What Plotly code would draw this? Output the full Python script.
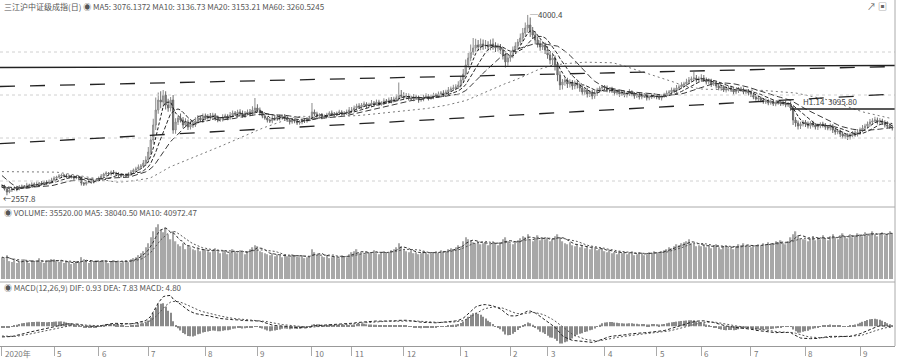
import plotly.graph_objects as go
import pandas as pd

# ---------------- data ----------------
pre_closes = [2660, 2650, 2640, 2630, 2620, 2610, 2600, 2610, 2620, 2630, 2640, 2650, 2640, 2630, 2620, 2630, 2640, 2650, 2660, 2670,
              2820, 2840, 2860, 2870, 2880, 2890, 2900, 2910, 2900, 2890, 2880, 2870, 2880, 2890, 2900, 2910, 2920, 2930, 2940, 2950,
              2950, 2960, 2940, 2900, 2850, 2800, 2760, 2700, 2650, 2600, 2560, 2590, 2620, 2640, 2610, 2630, 2650, 2640, 2630]

closes = [
    # 2020-04
    2632, 2608, 2584, 2600, 2608, 2616, 2608, 2624, 2632, 2624, 2640, 2632, 2648, 2640, 2648, 2656, 2648, 2664, 2656, 2672, 2680,
    # 05
    2696, 2704, 2712, 2720, 2712, 2704, 2712, 2704, 2696, 2704, 2696, 2656, 2648, 2664, 2672, 2664, 2672, 2680,
    # 06
    2696, 2712, 2728, 2736, 2728, 2744, 2736, 2728, 2720, 2712, 2720, 2712, 2728, 2744, 2760, 2768, 2784, 2792, 2816, 2840,
    # 07
    2904, 3000, 3120, 3240, 3320, 3304, 3360, 3280, 3256, 3320, 3080, 3144, 3176, 3160, 3120, 3144, 3104, 3128, 3120, 3152, 3176, 3160, 3192,
    # 08
    3176, 3192, 3184, 3200, 3176, 3160, 3168, 3184, 3192, 3176, 3200, 3216, 3208, 3224, 3208, 3192, 3216, 3224, 3208, 3240, 3256,
    # 09
    3240, 3216, 3192, 3176, 3160, 3152, 3176, 3168, 3184, 3176, 3192, 3176, 3160, 3144, 3160, 3152, 3136, 3144, 3160, 3152, 3168, 3176,
    # 10
    3224, 3208, 3192, 3200, 3184, 3192, 3200, 3216, 3208, 3200, 3216, 3224, 3208, 3216, 3224, 3240,
    # 11
    3240, 3256, 3272, 3264, 3280, 3288, 3272, 3280, 3296, 3288, 3304, 3288, 3296, 3312, 3304, 3320, 3312, 3328, 3336, 3360, 3352,
    # 12
    3344, 3352, 3336, 3328, 3344, 3336, 3320, 3328, 3344, 3352, 3336, 3344, 3360, 3352, 3368, 3376, 3360, 3384, 3400, 3408, 3416, 3424, 3440,
    # 2021-01
    3480, 3528, 3600, 3656, 3704, 3736, 3760, 3744, 3768, 3752, 3760, 3744, 3768, 3752, 3736, 3744, 3720, 3680, 3624, 3656,
    # 02
    3680, 3720, 3752, 3784, 3816, 3856, 3896, 3920, 3864, 3840, 3800, 3768, 3744, 3760, 3720,
    # 03
    3680, 3640, 3656, 3600, 3520, 3440, 3464, 3480, 3448, 3464, 3432, 3456, 3440, 3416, 3384, 3400, 3368, 3384, 3352, 3376, 3400, 3416, 3424,
    # 04
    3416, 3400, 3408, 3392, 3376, 3384, 3368, 3376, 3360, 3368, 3384, 3368, 3352, 3360, 3344, 3360, 3352, 3336, 3344, 3360, 3352,
    # 05
    3344, 3336, 3352, 3360, 3376, 3384, 3400, 3392, 3416, 3424, 3440, 3448, 3464, 3480, 3488, 3496, 3480, 3488,
    # 06
    3496, 3480, 3464, 3472, 3448, 3456, 3432, 3416, 3424, 3400, 3408, 3416, 3400, 3384, 3392, 3408, 3400, 3384, 3392, 3376,
    # 07
    3360, 3344, 3328, 3336, 3320, 3304, 3312, 3296, 3304, 3288, 3296, 3304, 3288, 3296, 3280, 3288, 3256, 3160, 3136, 3112, 3128, 3144,
    # 08
    3128, 3112, 3136, 3120, 3104, 3112, 3128, 3120, 3104, 3096, 3112, 3080, 3064, 3072, 3048, 3032, 3040, 3024, 3040, 3056, 3048, 3064,
    # 09
    3080, 3096, 3112, 3128, 3144, 3152, 3160, 3144, 3152, 3136, 3120, 3112, 3104, 3096,
]

wick_up = [
    16, 10, 12, 20, 8, 14, 10, 16, 12, 8, 18, 10, 14, 12, 20, 8, 16, 10, 14, 12, 18,
    14, 10, 16, 12, 8, 18, 12, 10, 14, 16, 10, 12, 8, 14, 10, 16, 12, 10,
    12, 16, 10, 14, 8, 12, 16, 10, 14, 12, 8, 10, 14, 16, 12, 18, 20, 16, 24, 30,
    40, 30, 50, 100, 60, 70, 40, 30, 50, 24, 40, 30, 20, 36, 24, 30, 20, 26, 18, 30, 24, 16, 20,
    20, 16, 24, 18, 14, 20, 16, 22, 18, 14, 24, 20, 16, 18, 22, 28, 16, 20, 24, 30, 80,
    30, 20, 16, 18, 14, 12, 20, 16, 14, 18, 12, 16, 20, 14, 18, 12, 16, 14, 20, 12, 16, 18,
    72, 20, 18, 14, 16, 12, 18, 14, 20, 16, 12, 18, 14, 16, 20, 24,
    24, 20, 18, 22, 16, 20, 14, 18, 24, 16, 20, 18, 14, 22, 16, 20, 24, 18, 30, 100, 40,
    30, 24, 20, 18, 24, 16, 20, 14, 18, 22, 16, 20, 18, 14, 20, 16, 22, 18, 24, 20, 26, 22, 30,
    30, 40, 44, 40, 60, 80, 50, 40, 44, 36, 40, 30, 36, 44, 30, 28, 24, 20, 20, 30,
    24, 28, 30, 24, 36, 40, 44, 80.4, 60, 40, 30, 24, 30, 26, 20,
    30, 24, 28, 20, 26, 30, 24, 20, 18, 22, 16, 20, 18, 14, 20, 16, 18, 14, 16, 20, 18, 14, 16,
    16, 20, 14, 18, 12, 16, 14, 18, 12, 20, 24, 14, 16, 12, 18, 14, 16, 12, 18, 14, 16,
    14, 16, 12, 18, 20, 16, 20, 18, 24, 20, 22, 18, 26, 24, 20, 48, 24, 20,
    30, 24, 20, 22, 18, 24, 16, 20, 18, 14, 20, 16, 18, 14, 20, 16, 18, 20, 14, 16,
    16, 20, 14, 18, 12, 16, 20, 14, 18, 16, 12, 18, 14, 16, 20, 14, 20, 16, 24, 20, 18, 16,
    16, 20, 14, 18, 16, 20, 14, 18, 16, 12, 20, 14, 18, 16, 12, 20, 16, 14, 18, 16, 20, 24,
    20, 24, 18, 20, 24, 22, 26, 20, 24, 18, 22, 30, 20, 18,
]

wick_dn = [
    14, 12, 26.2, 10, 16, 12, 18, 10, 14, 12, 8, 16, 10, 14, 12, 18, 10, 12, 14, 10, 12,
    12, 14, 10, 16, 12, 10, 14, 12, 18, 10, 12, 20, 16, 12, 10, 14, 12, 10,
    14, 10, 12, 16, 10, 14, 12, 10, 16, 12, 14, 10, 12, 16, 12, 10, 14, 12, 16, 20,
    20, 24, 30, 40, 30, 50, 40, 36, 30, 28, 30, 30, 24, 20, 26, 18, 24, 20, 22, 16, 20, 18, 24,
    18, 14, 20, 16, 22, 18, 14, 20, 16, 18, 14, 20, 16, 22, 18, 14, 16, 20, 18, 14, 16,
    16, 20, 18, 14, 20, 16, 18, 14, 16, 20, 14, 18, 16, 20, 14, 18, 16, 14, 18, 16, 14, 12,
    14, 18, 16, 12, 18, 14, 16, 12, 14, 18, 12, 16, 14, 12, 16, 14,
    16, 14, 18, 12, 16, 14, 18, 12, 16, 14, 12, 18, 14, 16, 12, 14, 18, 12, 16, 20, 18,
    18, 16, 20, 14, 18, 16, 22, 14, 18, 16, 20, 14, 18, 16, 14, 18, 16, 14, 18, 16, 14, 18, 16,
    20, 24, 20, 22, 26, 24, 30, 28, 26, 30, 24, 28, 26, 30, 32, 28, 30, 36, 44, 30,
    30, 26, 24, 28, 24, 30, 32, 36, 40, 30, 34, 28, 30, 24, 32,
    30, 34, 40, 44, 50, 40, 36, 30, 32, 28, 30, 26, 28, 30, 26, 24, 28, 24, 26, 22, 24, 20, 22,
    20, 18, 22, 16, 20, 18, 22, 16, 18, 20, 16, 18, 22, 16, 20, 18, 16, 20, 18, 16, 18,
    18, 16, 20, 14, 18, 16, 20, 14, 18, 16, 14, 18, 16, 14, 18, 16, 20, 18,
    18, 16, 20, 18, 24, 16, 20, 18, 22, 16, 20, 18, 16, 20, 18, 16, 14, 18, 16, 20,
    16, 18, 14, 16, 18, 14, 16, 18, 14, 16, 18, 14, 16, 14, 18, 16, 22, 40, 30, 28, 24, 20,
    24, 20, 22, 18, 20, 24, 18, 20, 22, 18, 20, 24, 22, 18, 24, 20, 22, 24, 20, 18, 22, 20,
    22, 18, 20, 16, 20, 18, 16, 20, 18, 16, 20, 18, 16, 20,
]

volumes = [
    22, 20, 24, 18, 17, 19, 16, 18, 17, 20, 18, 16, 19, 17, 18, 21, 17, 16, 18, 19, 20,
    20, 18, 17, 19, 16, 18, 17, 15, 16, 18, 17, 22, 20, 17, 16, 18, 17, 19,
    18, 17, 19, 18, 16, 17, 19, 18, 17, 16, 18, 19, 17, 20, 21, 22, 24, 26, 28, 32,
    36, 42, 48, 52, 55, 50, 47, 52, 45, 40, 48, 38, 35, 33, 36, 30, 34, 32, 30, 29, 31, 28, 30,
    30, 28, 27, 29, 31, 28, 26, 27, 29, 25, 27, 30, 28, 26, 29, 27, 25, 28, 30, 32, 34,
    33, 28, 27, 26, 25, 24, 26, 23, 25, 24, 22, 24, 23, 22, 25, 24, 23, 22, 24, 21, 22, 23,
    30, 27, 24, 25, 23, 22, 24, 21, 22, 23, 22, 21, 24, 23, 22, 25,
    27, 28, 30, 26, 27, 25, 28, 26, 27, 29, 26, 25, 27, 28, 26, 27, 29, 30, 32, 36, 33,
    30, 28, 27, 29, 26, 27, 25, 26, 28, 27, 25, 26, 27, 28, 26, 29, 27, 28, 30, 31, 30, 32, 34,
    33, 38, 42, 40, 39, 37, 36, 38, 35, 36, 37, 34, 35, 38, 36, 34, 37, 40, 42, 38,
    36, 35, 37, 39, 41, 43, 42, 45, 40, 38, 41, 44, 39, 42, 40,
    41, 38, 40, 43, 45, 42, 38, 36, 35, 37, 34, 33, 35, 32, 34, 31, 33, 30, 32, 31, 29, 30, 31,
    28, 27, 29, 26, 27, 25, 28, 26, 27, 25, 26, 28, 24, 25, 27, 26, 24, 25, 27, 26, 28,
    27, 26, 28, 29, 30, 32, 31, 33, 35, 34, 36, 37, 38, 40, 36, 35, 33, 34,
    33, 35, 32, 34, 31, 33, 35, 32, 30, 33, 34, 31, 32, 30, 33, 35, 34, 36, 33, 34,
    32, 33, 34, 35, 33, 36, 34, 37, 35, 36, 38, 37, 39, 36, 35, 38, 42, 45, 48, 44, 41, 40,
    40, 38, 41, 43, 39, 42, 40, 44, 41, 39, 43, 45, 42, 40, 44, 46, 43, 41, 45, 42, 44, 46,
    45, 43, 47, 44, 46, 48, 45, 43, 46, 47, 44, 45, 48, 46,
]

month_starts = [0, 21, 39, 59, 82, 103, 125, 141, 162, 185, 205, 220, 243, 264, 282, 302, 324, 346]
month_labels = ["2020年", "5", "6", "7", "8", "9", "10", "11", "12", "1", "2", "3", "4", "5", "6", "7", "8", "9"]

# drawn trend lines: (x0, price0, x1, price1, dash)
trend_lines = [
    (-0.8, 3580, 360.1, 3596, "solid"),
    (-0.8, 3428, 360.1, 3588, "longdash"),
    (-0.8, 2971, 360.1, 3368, "longdash"),
    (318, 3248, 360.1, 3248, "solid"),
]
grid_prices = [3704, 3360, 3016, 2672]

assert len(closes) == len(wick_up) == len(wick_dn) == len(volumes) == 360, (len(closes), len(wick_up), len(wick_dn), len(volumes))

# ---------------- derived ----------------
n = len(closes)
xs = list(range(n))
opens = [pre_closes[-1]] + closes[:-1]
highs = [max(o, c) + w for o, c, w in zip(opens, closes, wick_up)]
lows = [min(o, c) - w for o, c, w in zip(opens, closes, wick_dn)]

full = pd.Series(pre_closes + closes, dtype=float)
k0 = len(pre_closes)


def ma(k):
    return full.rolling(k).mean().iloc[k0:].tolist()


ma5, ma10, ma20, ma60 = ma(5), ma(10), ma(20), ma(60)
ema12 = full.ewm(span=12, adjust=False).mean()
ema26 = full.ewm(span=26, adjust=False).mean()
dif_s = ema12 - ema26
dea_s = dif_s.ewm(span=9, adjust=False).mean()
hist_s = 2 * (dif_s - dea_s)
dif = dif_s.iloc[k0:].tolist()
dea = dea_s.iloc[k0:].tolist()
hist = hist_s.iloc[k0:].tolist()

vs = pd.Series(volumes, dtype=float)
vma5 = vs.rolling(5, min_periods=1).mean().tolist()
vma10 = vs.rolling(10, min_periods=1).mean().tolist()

# ---------------- layout geometry ----------------
H = 359
MB = 13
PH = H - MB  # plot height in px


def py(p):
    return (PH - p) / PH


XR = [-0.8, 360.1]

fig = go.Figure()

fig.add_trace(go.Candlestick(
    x=xs, open=opens, high=highs, low=lows, close=closes,
    increasing=dict(line=dict(color="#8a8a8a", width=1), fillcolor="#c4c4c4"),
    decreasing=dict(line=dict(color="#6a6a6a", width=1), fillcolor="#8a8a8a"),
    whiskerwidth=0, xaxis="x", yaxis="y", showlegend=False, hoverinfo="skip"))

for vals, col, dash, w in [(ma5, "#1a1a1a", "3px,2px", 1), (ma10, "#2a2a2a", "4px,2px", 1),
                           (ma20, "#3a3a3a", "6px,3px", 1), (ma60, "#7a7a7a", "2px,3px", 1)]:
    fig.add_trace(go.Scatter(x=xs, y=vals, mode="lines", line=dict(color=col, dash=dash, width=w),
                             xaxis="x", yaxis="y", showlegend=False, hoverinfo="skip"))

fig.add_trace(go.Bar(x=xs, y=volumes, marker=dict(color="#a8a8a8", line=dict(width=0)),
                     xaxis="x2", yaxis="y2", showlegend=False, hoverinfo="skip"))
fig.add_trace(go.Scatter(x=xs, y=vma5, mode="lines", line=dict(color="#333", width=1, dash="3px,2px"),
                         xaxis="x2", yaxis="y2", showlegend=False, hoverinfo="skip"))
fig.add_trace(go.Scatter(x=xs, y=vma10, mode="lines", line=dict(color="#555", width=1, dash="2px,2px"),
                         xaxis="x2", yaxis="y2", showlegend=False, hoverinfo="skip"))

fig.add_trace(go.Bar(x=xs, y=hist, marker=dict(color="#8a8a8a", line=dict(width=0)), width=0.45,
                     xaxis="x3", yaxis="y3", showlegend=False, hoverinfo="skip"))
fig.add_trace(go.Scatter(x=xs, y=dif, mode="lines", line=dict(color="#222", width=1, dash="3px,2px"),
                         xaxis="x3", yaxis="y3", showlegend=False, hoverinfo="skip"))
fig.add_trace(go.Scatter(x=xs, y=dea, mode="lines", line=dict(color="#555", width=1, dash="2px,2px"),
                         xaxis="x3", yaxis="y3", showlegend=False, hoverinfo="skip"))

mlo = min(min(dif), min(dea), min(hist))
mhi = max(max(dif), max(dea), max(hist))
pad = (mhi - mlo) * 0.05
vmax = max(volumes)

axis_common = dict(range=XR, showgrid=False, zeroline=False, showticklabels=False, fixedrange=True)
fig.update_layout(
    width=900, height=H,
    margin=dict(l=0, r=5, t=0, b=MB),
    paper_bgcolor="white", plot_bgcolor="white",
    bargap=0.45,
    xaxis=dict(domain=[0, 1], anchor="y", rangeslider=dict(visible=False), **axis_common),
    xaxis2=dict(domain=[0, 1], anchor="y2", **axis_common),
    xaxis3=dict(domain=[0, 1], anchor="y3", range=XR, showgrid=False, zeroline=False,
                showticklabels=False, ticks="outside", ticklen=9, tickcolor="#aaa",
                tickvals=month_starts, showline=True, linecolor="#999", linewidth=1),
    yaxis=dict(domain=[py(204), py(10)], range=[2488, 4040], showgrid=False, zeroline=False,
               showticklabels=False),
    yaxis2=dict(domain=[py(279), py(220)], range=[0, vmax * 1.08], showgrid=False, zeroline=False,
                showticklabels=False),
    yaxis3=dict(domain=[0, py(293)], range=[mlo - pad, mhi + pad], showgrid=False, zeroline=False,
                showticklabels=False),
    font=dict(family="Noto Sans CJK SC, DejaVu Sans", size=8, color="#666"),
)

shapes = []
for gp in grid_prices:
    shapes.append(dict(type="line", xref="paper", yref="y", x0=0, x1=1, y0=gp, y1=gp,
                       line=dict(color="#d0d0d0", width=1, dash="dot")))
for x0, p0, x1, p1, dash in trend_lines:
    shapes.append(dict(type="line", xref="x", yref="y", x0=x0, x1=x1, y0=p0, y1=p1,
                       line=dict(color="#222", width=1.3, dash=dash)))
for yy in [207, 282]:
    shapes.append(dict(type="line", xref="paper", yref="paper", x0=0, x1=1, y0=py(yy), y1=py(yy),
                       line=dict(color="#aaa", width=1)))
shapes.append(dict(type="line", xref="paper", yref="paper", x0=1, x1=1, y0=0, y1=1,
                   line=dict(color="#aaa", width=1)))
fig.update_layout(shapes=shapes)

ann = []
hdr_font = dict(size=8, color="#555", family="Noto Sans CJK SC, DejaVu Sans")
ann.append(dict(xref="paper", yref="paper", x=0.002, y=py(6), xanchor="left", yanchor="middle", showarrow=False,
                text="三江沪中证级成指(日) ◉ MA5: 3076.1372 MA10: 3136.73 MA20: 3153.21 MA60: 3260.5245", font=hdr_font))
ann.append(dict(xref="paper", yref="paper", x=0.002, y=py(213), xanchor="left", yanchor="middle", showarrow=False,
                text="◉ VOLUME: 35520.00 MA5: 38040.50 MA10: 40972.47", font=hdr_font))
ann.append(dict(xref="paper", yref="paper", x=0.002, y=py(287), xanchor="left", yanchor="middle", showarrow=False,
                text="◉ MACD(12,26,9) DIF: 0.93 DEA: 7.83 MACD: 4.80", font=hdr_font))
ann.append(dict(xref="paper", yref="paper", x=0.993, y=py(6), xanchor="right", yanchor="middle", showarrow=False,
                text="↗ ▣", font=dict(size=9, color="#666")))
# extreme labels
imax = max(range(n), key=lambda i: highs[i])
imin = min(range(n), key=lambda i: lows[i])
ann.append(dict(xref="x", yref="y", x=imax, y=highs[imax], xanchor="left", yanchor="middle", showarrow=False,
                text="─%.1f" % highs[imax], font=dict(size=8, color="#444")))
ann.append(dict(xref="x", yref="y", x=imin, y=lows[imin], xanchor="left", yanchor="middle", showarrow=False,
                xshift=-6, yshift=-3, text="←%.1f" % lows[imin], font=dict(size=8, color="#444")))
ann.append(dict(xref="x", yref="y", x=322, y=3248, xanchor="left", yanchor="bottom", showarrow=False,
                text="H1.14  3095.80", font=dict(size=8, color="#444")))
for ms, lab in zip(month_starts, month_labels):
    ann.append(dict(xref="x3", yref="paper", x=ms, y=py(353), xanchor="left", yanchor="middle", showarrow=False,
                    xshift=1, text=lab, font=dict(size=8, color="#777")))
fig.update_layout(annotations=ann)

fig.write_html("out.html", config={"displayModeBar": False},
               post_script="document.body.style.margin='0px';document.body.style.overflow='hidden';")
